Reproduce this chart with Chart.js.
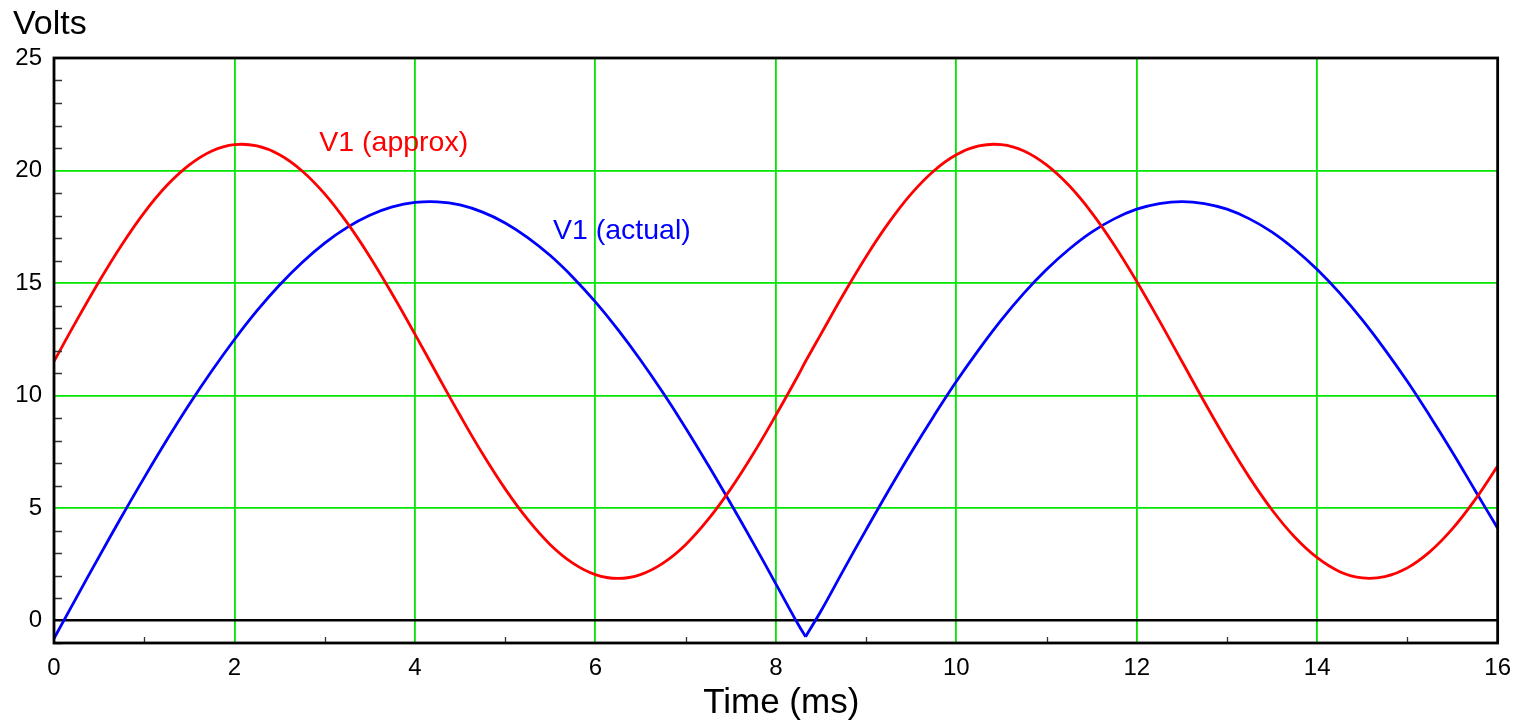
<!DOCTYPE html>
<html>
<head>
<meta charset="utf-8">
<script src="https://cdn.jsdelivr.net/npm/chart.js@4.4.1/dist/chart.umd.min.js"></script>
<style>
  html, body { margin: 0; padding: 0; background: #fff; }
  #wrap { width: 1522px; height: 723px; }
</style>
</head>
<body>
<div id="wrap"><canvas id="vchart"></canvas></div>
<script>
// time axis (ms), 0.25 ms steps plus the cusp of the rectified wave
var timeMs = [0,0.25,0.5,0.75,1,1.25,1.5,1.75,2,2.25,2.5,2.75,3,3.25,3.5,3.75,4,4.25,4.5,4.75,
    5,5.25,5.5,5.75,6,6.25,6.5,6.75,7,7.25,7.5,7.75,8,8.25,8.33,8.5,8.75,9,9.25,9.5,9.75,
    10,10.25,10.5,10.75,11,11.25,11.5,11.75,12,12.25,12.5,12.75,13,13.25,13.5,13.75,
    14,14.25,14.5,14.75,15,15.25,15.5,15.75,16];

var v1Approx = [11.52,13.33,15.07,16.69,18.13,19.33,20.25,20.87,21.15,21.09,20.70,19.98,18.96,17.67,
    16.17,14.50,12.73,10.91,9.12,7.41,5.85,4.49,3.37,2.55,2.04,1.87,2.04,2.55,3.37,4.49,5.85,7.41,
    9.12,10.91,11.52,12.73,14.50,16.17,17.67,18.96,19.98,20.70,21.09,21.15,20.87,20.25,19.33,18.13,
    16.69,15.07,13.33,11.52,9.71,7.97,6.35,4.91,3.71,2.79,2.17,1.89,1.95,2.34,3.06,4.08,5.37,6.87];

var v1Actual = [-0.80,1.03,2.84,4.62,6.35,8.02,9.61,11.10,12.49,13.77,14.91,15.91,16.77,17.47,18.01,
    18.38,18.58,18.61,18.47,18.15,17.67,17.02,16.22,15.26,14.16,12.93,11.58,10.12,8.56,6.91,5.20,
    3.44,1.63,-0.19,-0.72,0.42,2.24,4.03,5.78,7.47,9.08,10.62,12.04,13.36,14.55,15.60,16.50,17.26,
    17.85,18.28,18.53,18.62,18.53,18.28,17.85,17.26,16.50,15.60,14.55,13.36,12.04,10.62,9.08,7.47,
    5.78,4.10];

// index of the cusp (8.33 ms) in the rectified wave
var cuspIndex = 34;

var xTicks = [0,2,4,6,8,10,12,14,16];
var yTicks = [0,5,10,15,20,25];

var GREEN = 'rgb(0,230,0)';
var FONT = "'Liberation Sans', Arial, sans-serif";

function pts(ys, from, to) {
    var out = [];
    for (var i = from; i <= to; i++) out.push({ x: timeMs[i], y: ys[i] });
    return out;
}

// frame, minor ticks and text labels
var decor = {
    id: 'decor',
    afterDraw: function(chart) {
        var ctx = chart.ctx;
        var a = chart.chartArea;
        var xs = chart.scales.x, ys = chart.scales.y;
        ctx.save();

        ctx.strokeStyle = '#333';
        ctx.lineWidth = 1.3;
        ctx.beginPath();
        for (var v = -1; v <= 25; v++) {
            if (v % 5 === 0) continue;
            var py = Math.round(ys.getPixelForValue(v)) + 0.5;
            ctx.moveTo(a.left, py);
            ctx.lineTo(a.left + 8, py);
        }
        for (var t = 1; t < 16; t += 2) {
            var px = Math.round(xs.getPixelForValue(t)) + 0.5;
            ctx.moveTo(px, a.bottom);
            ctx.lineTo(px, a.bottom - 6);
        }
        ctx.stroke();

        ctx.strokeStyle = '#000';
        ctx.lineWidth = 2.8;
        ctx.strokeRect(a.left, a.top, a.right - a.left, a.bottom - a.top);

        ctx.textBaseline = 'middle';
        ctx.textAlign = 'left';
        ctx.font = '34px ' + FONT;
        ctx.fillStyle = '#000';
        ctx.fillText('Volts', 13, 25);

        ctx.textAlign = 'center';
        ctx.font = '35px ' + FONT;
        ctx.fillText('Time (ms)', xs.getPixelForValue(8.06), 703);

        ctx.textAlign = 'left';
        ctx.font = '28.5px ' + FONT;
        ctx.fillStyle = 'rgb(255,0,0)';
        ctx.fillText('V1 (approx)', xs.getPixelForValue(2.94), ys.getPixelForValue(21.2));
        ctx.fillStyle = 'rgb(0,0,255)';
        ctx.fillText('V1 (actual)', xs.getPixelForValue(5.53), ys.getPixelForValue(17.3));
        ctx.restore();
    }
};

var lineStyle = { borderWidth: 2.8, pointRadius: 0, tension: 0.4 };

var chart = new Chart(document.getElementById('vchart'), {
    type: 'line',
    data: {
        datasets: [
            Object.assign({ label: 'V1 (approx)', data: pts(v1Approx, 0, timeMs.length - 1), borderColor: 'rgb(255,0,0)' }, lineStyle),
            // rectified wave drawn in two pieces so the cusp stays sharp
            Object.assign({ label: 'V1 (actual)', data: pts(v1Actual, 0, cuspIndex), borderColor: 'rgb(0,0,255)' }, lineStyle),
            Object.assign({ label: 'V1 (actual)', data: pts(v1Actual, cuspIndex, timeMs.length - 1), borderColor: 'rgb(0,0,255)' }, lineStyle)
        ]
    },
    options: {
        responsive: true,
        maintainAspectRatio: false,
        animation: false,
        layout: { padding: { top: 58, right: 22, left: 0, bottom: 0 } },
        plugins: {
            legend: { display: false },
            tooltip: { enabled: false }
        },
        scales: {
            x: {
                type: 'linear',
                min: 0,
                max: 16,
                afterBuildTicks: function(s) { s.ticks = xTicks.map(function(v) { return { value: v }; }); },
                afterFit: function(s) { s.height = 80; },
                border: { display: false },
                grid: {
                    drawTicks: false,
                    color: function(c) { return (c.tick.value === 0 || c.tick.value === 16) ? 'rgba(0,0,0,0)' : GREEN; },
                    lineWidth: 1.8
                },
                ticks: {
                    color: '#000',
                    padding: 11,
                    maxRotation: 0,
                    font: { family: FONT, size: 24 }
                }
            },
            y: {
                min: -1,
                max: 25,
                afterBuildTicks: function(s) { s.ticks = yTicks.map(function(v) { return { value: v }; }); },
                afterFit: function(s) { s.width = 54; },
                border: { display: false },
                grid: {
                    drawTicks: false,
                    color: function(c) {
                        if (c.tick.value === 0) return '#000';
                        if (c.tick.value === 25) return 'rgba(0,0,0,0)';
                        return GREEN;
                    },
                    lineWidth: function(c) { return c.tick.value === 0 ? 2.5 : 1.8; }
                },
                ticks: {
                    color: '#000',
                    padding: 12,
                    font: { family: FONT, size: 24 }
                }
            }
        }
    },
    plugins: [decor]
});
</script>
</body>
</html>
